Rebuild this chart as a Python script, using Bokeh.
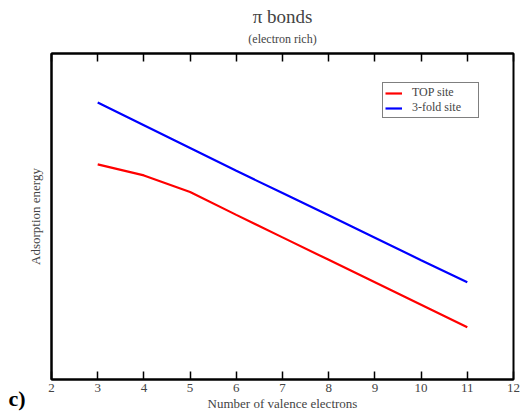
from bokeh.plotting import figure
from bokeh.models import Range1d, LinearAxis, FixedTicker, Title, Label, Legend, LegendItem
from bokeh.embed import file_html
from bokeh.resources import INLINE

# ---- data (y in arbitrary energy units) ----
electrons = [3, 4, 5, 6, 7, 8, 9, 10, 11]
top_site = [6.60, 6.26, 5.75, 5.05, 4.36, 3.67, 2.98, 2.29, 1.60]
threefold_site = [8.50, 7.80, 7.10, 6.40, 5.72, 5.04, 4.35, 3.66, 2.98]
x_ticks = [2, 3, 4, 5, 6, 7, 8, 9, 10, 11, 12]

FONT = "Liberation Serif"

p = figure(width=523, height=413, output_backend="svg", toolbar_location=None,
           x_range=Range1d(2, 12), y_range=Range1d(0, 10),
           x_axis_location=None, y_axis_location=None,
           min_border_left=51, min_border_right=10, min_border_top=53, min_border_bottom=34,
           title=None)
p.background_fill_color = "white"
p.border_fill_color = "white"
p.outline_line_color = "black"
p.outline_line_width = 2
p.xgrid.visible = False
p.ygrid.visible = False

# bottom axis
xb = LinearAxis(ticker=FixedTicker(ticks=x_ticks, minor_ticks=[]),
                axis_label="Number of valence electrons")
xb.major_tick_in = 8
xb.major_tick_out = 0
xb.major_tick_line_width = 1.5
xb.axis_line_width = 2
xb.major_label_text_font = FONT
xb.major_label_text_font_size = "13px"
xb.major_label_standoff = 4
xb.axis_label_text_font = FONT
xb.axis_label_text_font_size = "13px"
xb.axis_label_text_font_style = "normal"
xb.axis_label_standoff = 1
p.add_layout(xb, "below")

# top axis (ticks only, empty labels)
xt = LinearAxis(ticker=FixedTicker(ticks=x_ticks, minor_ticks=[]))
xt.major_tick_in = 8
xt.major_tick_out = 0
xt.major_tick_line_width = 1.5
xt.axis_line_width = 2
xt.major_label_overrides = {t: "" for t in x_ticks}
xt.major_label_text_font_size = "4px"
xt.major_label_standoff = 0
p.add_layout(xt, "above")

# left axis (label only)
yl = LinearAxis(axis_label="Adsorption energy", ticker=FixedTicker(ticks=[]))
yl.major_tick_in = 0
yl.major_tick_out = 0
yl.minor_tick_in = 0
yl.minor_tick_out = 0
yl.axis_line_width = 2
yl.major_label_text_font_size = "4px"
yl.major_label_standoff = 0
yl.axis_label_text_font = FONT
yl.axis_label_text_font_size = "13px"
yl.axis_label_text_font_style = "normal"
yl.axis_label_standoff = 9
p.add_layout(yl, "left")

# titles
p.add_layout(Title(text="(electron rich)", align="center", text_font=FONT,
                   text_font_size="12px", text_font_style="normal", standoff=16), "above")
p.add_layout(Title(text="\u03c0 bonds", align="center", text_font=FONT,
                   text_font_size="19px", text_font_style="normal", standoff=-10), "above")

r_top = p.line(electrons, top_site, line_color="red", line_width=2.2)
r_3f = p.line(electrons, threefold_site, line_color="blue", line_width=2.2)

legend = Legend(items=[LegendItem(label="TOP site", renderers=[r_top]),
                       LegendItem(label="3-fold site", renderers=[r_3f])],
                location=(331, 261))
legend.label_text_font = FONT
legend.label_text_font_size = "12px"
legend.glyph_width = 17
legend.glyph_height = 12
legend.label_height = 12
legend.label_width = 64
legend.label_standoff = 10
legend.padding = 2
legend.spacing = 0
legend.margin = 0
legend.border_line_color = "black"
legend.border_line_width = 1.5
legend.background_fill_alpha = 1
p.add_layout(legend, "center")

# panel tag "c)" placed in the left side panel (not clipped by the frame)
p.add_layout(Label(x=1, y=-19, x_units="screen", y_units="screen", text="c)",
                   text_font=FONT, text_font_size="22px", text_font_style="bold",
                   text_color="black", text_baseline="middle"), "left")

open("out.html", "w").write(file_html(p, INLINE))
